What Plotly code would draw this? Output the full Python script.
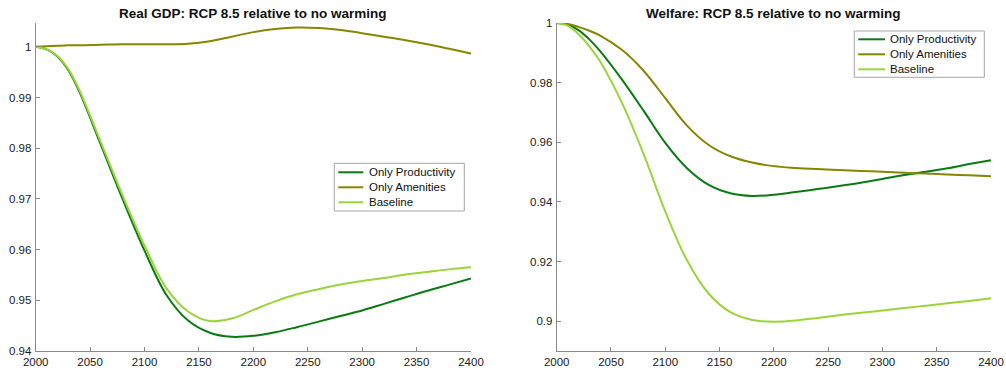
import plotly.graph_objects as go

# Years at which each series is tabulated (finer spacing over the first decades)
years = [2000, 2010, 2020, 2030, 2040, 2060, 2080, 2100, 2120, 2140, 2160, 2180,
         2200, 2220, 2240, 2260, 2280, 2300, 2320, 2340, 2360, 2380, 2400]

# Real GDP under RCP 8.5 relative to no warming
gdp_productivity = [1.0, 0.9995, 0.9981, 0.9954, 0.9912, 0.9806, 0.9699, 0.9598,
                    0.9511, 0.9460, 0.9436, 0.9428, 0.9430, 0.9437, 0.9447, 0.9458,
                    0.9469, 0.9480, 0.9493, 0.9506, 0.9519, 0.9531, 0.9543]
gdp_amenities = [1.0, 1.0001, 1.0002, 1.0003, 1.0003, 1.0004, 1.0005, 1.0005,
                 1.0005, 1.0006, 1.0011, 1.0020, 1.0029, 1.0035, 1.0038, 1.0037,
                 1.0033, 1.0027, 1.0020, 1.0013, 1.0005, 0.9996, 0.9987]
gdp_baseline = [1.0, 0.9995, 0.9982, 0.9956, 0.9915, 0.9811, 0.9706, 0.9608,
                0.9524, 0.9478, 0.9459, 0.9464, 0.9481, 0.9498, 0.9512, 0.9522,
                0.9531, 0.9538, 0.9544, 0.9551, 0.9556, 0.9561, 0.9565]

# Welfare under RCP 8.5 relative to no warming
wel_productivity = [1.0, 0.9995, 0.9976, 0.9945, 0.9906, 0.9811, 0.9706, 0.9598,
                    0.9513, 0.9457, 0.9429, 0.9420, 0.9424, 0.9433, 0.9443, 0.9453,
                    0.9464, 0.9477, 0.9490, 0.9501, 0.9513, 0.9527, 0.9540]
wel_amenities = [1.0, 0.9997, 0.9987, 0.9974, 0.9958, 0.9910, 0.9840, 0.9748,
                 0.9656, 0.9591, 0.9553, 0.9532, 0.9520, 0.9514, 0.9510, 0.9507,
                 0.9504, 0.9501, 0.9498, 0.9495, 0.9492, 0.9489, 0.9486]
wel_baseline = [1.0, 0.9991, 0.9963, 0.9922, 0.9871, 0.9733, 0.9561, 0.9368,
                0.9204, 0.9092, 0.9030, 0.9004, 0.8998, 0.9002, 0.9011, 0.9020,
                0.9028, 0.9036, 0.9044, 0.9052, 0.9060, 0.9068, 0.9077]

series_names = ["Only Productivity", "Only Amenities", "Baseline"]
series_colors = ["#0a7a12", "#868600", "#9bd43a"]

x_ticks = [2000, 2050, 2100, 2150, 2200, 2250, 2300, 2350, 2400]
gdp_ticks = [0.94, 0.95, 0.96, 0.97, 0.98, 0.99, 1.0]
gdp_ticktext = ["0.94", "0.95", "0.96", "0.97", "0.98", "0.99", "1"]
wel_ticks = [0.90, 0.92, 0.94, 0.96, 0.98, 1.0]
wel_ticktext = ["0.9", "0.92", "0.94", "0.96", "0.98", "1"]

titles = ["Real GDP: RCP 8.5 relative to no warming",
          "Welfare: RCP 8.5 relative to no warming"]

FONT = "Liberation Sans, Arial, Helvetica, sans-serif"
AXIS_GREY = "#8a8a8a"
TEXT = "#1a1a1a"
W, H = 1006, 371


def px(x):
    return x / W


def py(y):
    return (H - y) / H


fig = go.Figure()

gdp_series = [gdp_productivity, gdp_amenities, gdp_baseline]
wel_series = [wel_productivity, wel_amenities, wel_baseline]

for name, color, vals in zip(series_names, series_colors, gdp_series):
    fig.add_trace(go.Scatter(x=years, y=vals, mode="lines", name=name,
                             line=dict(color=color, width=2, shape="spline"),
                             xaxis="x", yaxis="y", showlegend=False))
for name, color, vals in zip(series_names, series_colors, wel_series):
    fig.add_trace(go.Scatter(x=years, y=vals, mode="lines", name=name,
                             line=dict(color=color, width=2, shape="spline"),
                             xaxis="x2", yaxis="y2", showlegend=False))

left_dom = [px(35.7), px(471)]
right_dom = [px(556.7), px(991)]
y_dom = [20 / H, (H - 23) / H]

common_x = dict(range=[2000, 2400], tickvals=x_ticks, showgrid=False, zeroline=False,
                showline=True, linecolor=AXIS_GREY, linewidth=1, ticks="inside",
                ticklen=4, tickcolor=AXIS_GREY, tickfont=dict(size=11.5, color=TEXT),
                ticklabelstandoff=0, automargin=False, mirror=False)
common_y = dict(showgrid=False, zeroline=False, showline=True, linecolor=AXIS_GREY,
                linewidth=1, ticks="inside", ticklen=4, tickcolor=AXIS_GREY,
                tickfont=dict(size=11.5, color=TEXT), ticklabelstandoff=1,
                automargin=False, mirror=False)

fig.update_layout(
    width=W, height=H,
    margin=dict(l=0, r=0, t=0, b=0),
    paper_bgcolor="white", plot_bgcolor="white",
    font=dict(family=FONT, size=11.5, color=TEXT),
    showlegend=False,
    xaxis=dict(domain=left_dom, anchor="y", **common_x),
    yaxis=dict(domain=y_dom, anchor="x", range=[0.94, 1.0047],
               tickvals=gdp_ticks, ticktext=gdp_ticktext, **common_y),
    xaxis2=dict(domain=right_dom, anchor="y2", **common_x),
    yaxis2=dict(domain=y_dom, anchor="x2", range=[0.89, 1.0],
                tickvals=wel_ticks, ticktext=wel_ticktext, **common_y),
)

# Panel titles
for i, title in enumerate(titles):
    dom = left_dom if i == 0 else right_dom
    fig.add_annotation(text="<b>" + title + "</b>", x=(dom[0] + dom[1]) / 2,
                       y=py(14), xref="paper", yref="paper",
                       showarrow=False, xanchor="center", yanchor="middle",
                       font=dict(size=13.5, color="#111111", family=FONT))

# Compact boxed legends, one per panel
legend_boxes = [
    dict(x0=334.3, x1=464.3, y0=163.3, y1=211.0, line_x0=338.3, line_x1=363.3,
         text_x=366.5, rows=[172.3, 187.3, 202.3]),
    dict(x0=854.3, x1=984.3, y0=31.0, y1=77.3, line_x0=858.3, line_x1=885.0,
         text_x=887.5, rows=[39.3, 54.3, 69.3]),
]
for box in legend_boxes:
    fig.add_shape(type="rect", xref="paper", yref="paper",
                  x0=px(box["x0"]), x1=px(box["x1"]), y0=py(box["y1"]), y1=py(box["y0"]),
                  line=dict(color="#a6a6a6", width=1), fillcolor="white", layer="above")
    for name, color, row in zip(series_names, series_colors, box["rows"]):
        fig.add_shape(type="line", xref="paper", yref="paper",
                      x0=px(box["line_x0"]), x1=px(box["line_x1"]), y0=py(row), y1=py(row),
                      line=dict(color=color, width=2), layer="above")
        fig.add_annotation(text=name, x=px(box["text_x"]), y=py(row),
                           xref="paper", yref="paper", showarrow=False,
                           xanchor="left", yanchor="middle",
                           font=dict(size=11.5, color="#111111", family=FONT))

fig.write_html("out.html")
